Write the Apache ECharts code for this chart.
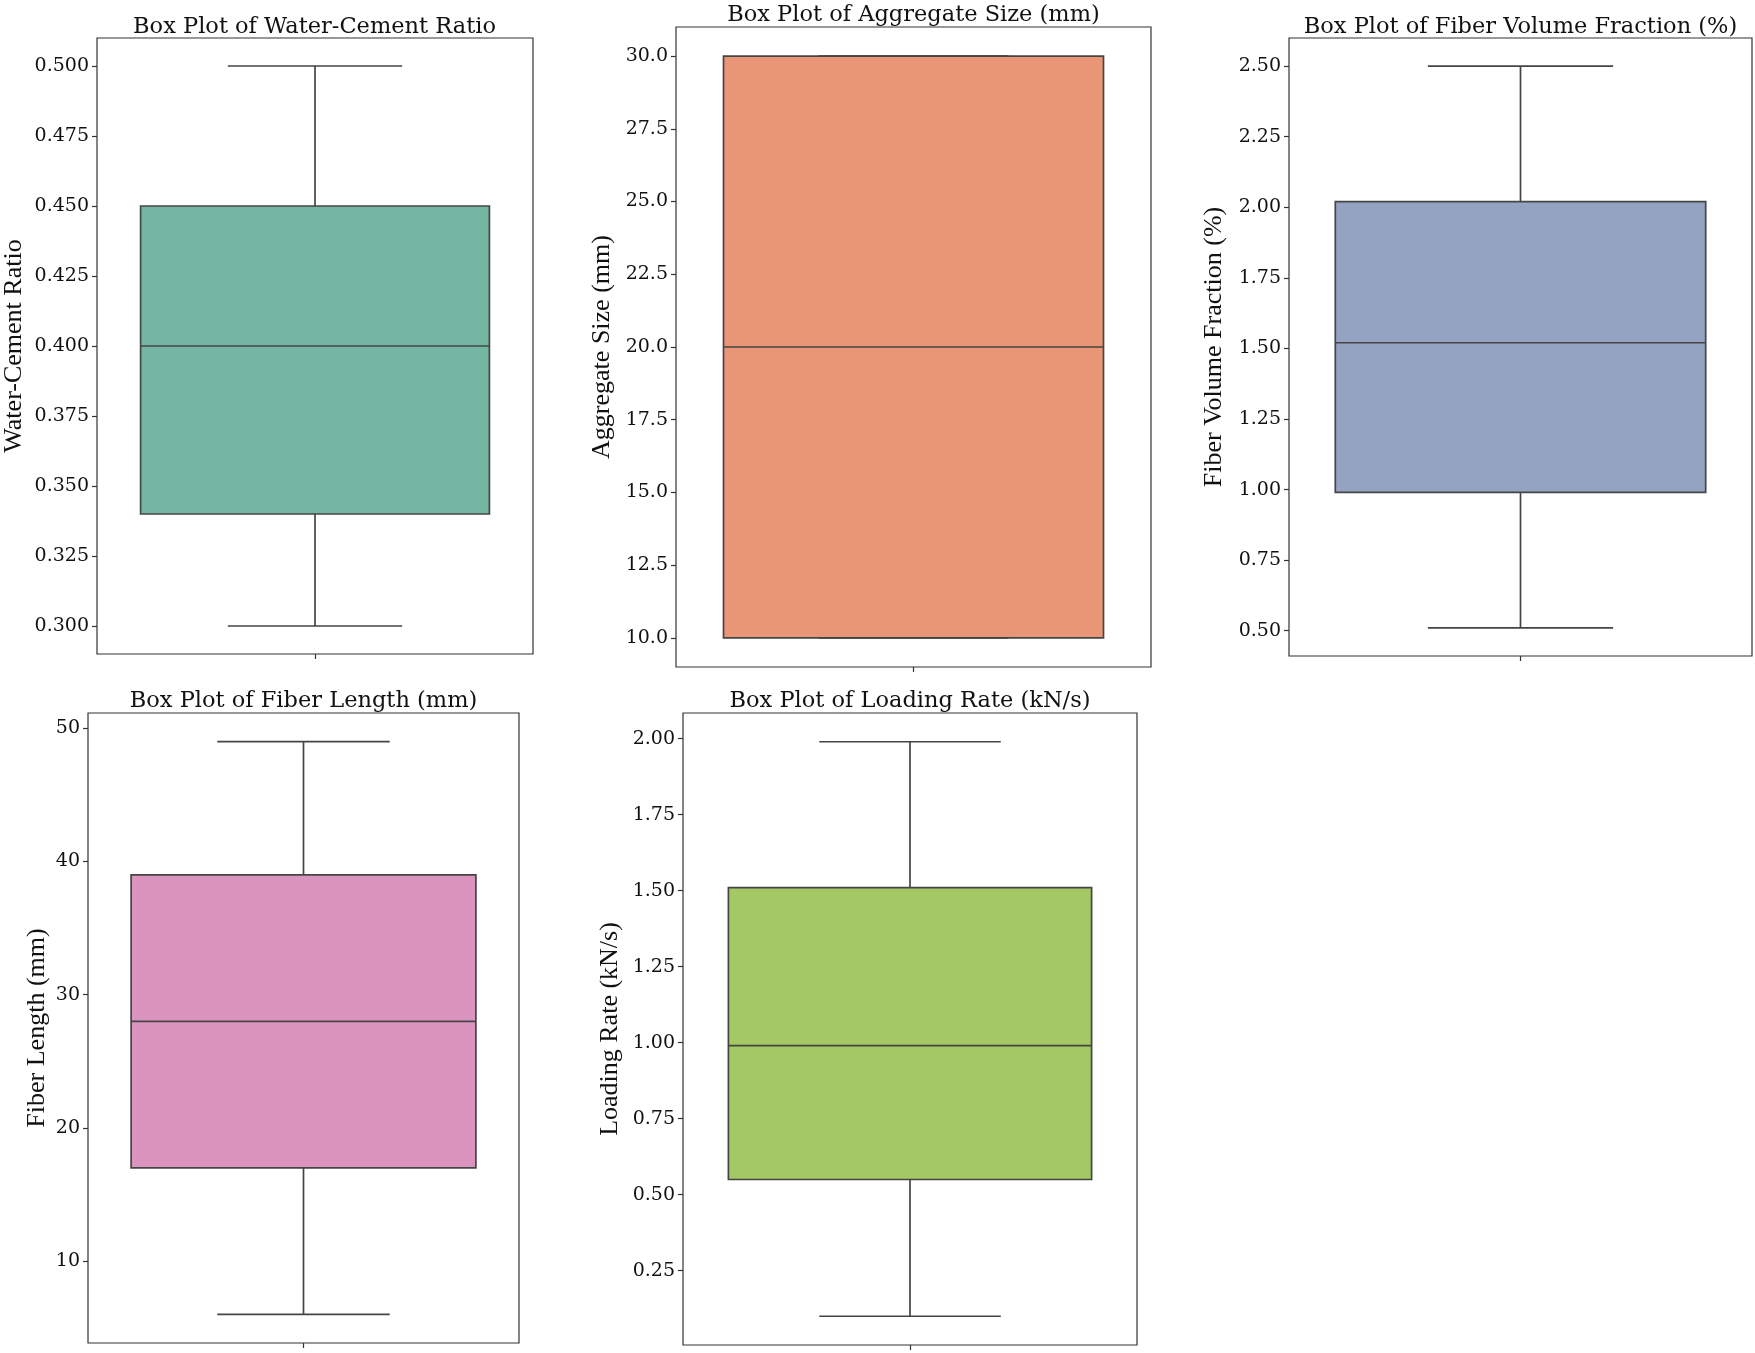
<!DOCTYPE html>
<html>
<head>
<meta charset="utf-8">
<script src="https://cdn.jsdelivr.net/npm/echarts@6/dist/echarts.min.js"></script>
<style>
html,body{margin:0;padding:0;background:#fff;}
#chart{width:1755px;height:1353px;}
</style>
</head>
<body>
<div id="chart"></div>
<script>
// ---- data ----
const variables = ['Water-Cement Ratio', 'Aggregate Size (mm)', 'Fiber Volume Fraction (%)', 'Fiber Length (mm)', 'Loading Rate (kN/s)'];
const whiskerLow  = [0.30, 10, 0.51, 6, 0.10];
const quartile1   = [0.34, 10, 0.99, 17, 0.55];
const medians     = [0.40, 20, 1.52, 28, 0.99];
const quartile3   = [0.45, 30, 2.02, 39, 1.51];
const whiskerHigh = [0.50, 30, 2.50, 49, 1.99];

const ticksWaterCement = [0.300, 0.325, 0.350, 0.375, 0.400, 0.425, 0.450, 0.475, 0.500];
const ticksAggregate   = [10.0, 12.5, 15.0, 17.5, 20.0, 22.5, 25.0, 27.5, 30.0];
const ticksFiberVolume = [0.50, 0.75, 1.00, 1.25, 1.50, 1.75, 2.00, 2.25, 2.50];
const ticksFiberLength = [10, 20, 30, 40, 50];
const ticksLoadingRate = [0.25, 0.50, 0.75, 1.00, 1.25, 1.50, 1.75, 2.00];
const tickSets = [ticksWaterCement, ticksAggregate, ticksFiberVolume, ticksFiberLength, ticksLoadingRate];
const tickDecimals = [3, 1, 2, 0, 2];

// ---- layout / style ----
const colors = ['#73b7a2', '#e99677', '#95a3c3', '#db94be', '#a3c864'];
const grids = [
  {left: 96,   top: 38,  width: 437, height: 616},
  {left: 676,  top: 27,  width: 475, height: 640},
  {left: 1289, top: 38,  width: 463, height: 618},
  {left: 88,   top: 713, width: 431, height: 630},
  {left: 683,  top: 713, width: 454, height: 632}
];
const yRanges = [[0.29, 0.51], [9, 31], [0.4105, 2.5995], [3.85, 51.15], [0.0055, 2.0845]];
const nameGaps = [70, 61, 62, 38, 60];
const titleCapCenters = [24.5, 13, 24.5, 698.5, 698.5];
const LINE = '#454545';

const option = {
  backgroundColor: '#fff',
  animation: false,
  title: variables.map((v, i) => ({
    text: 'Box Plot of ' + v,
    left: grids[i].left + grids[i].width / 2,
    top: titleCapCenters[i] - 9,
    textAlign: 'center',
    padding: 0,
    textStyle: {fontFamily: 'DejaVu Serif', fontSize: 22.5, fontWeight: 'normal', color: '#111'}
  })),
  grid: grids.map(g => Object.assign({show: true, borderColor: '#333', borderWidth: 1.2, containLabel: false}, g)),
  xAxis: variables.map((v, i) => ({
    type: 'category', gridIndex: i, data: [''],
    axisLine: {show: false},
    axisLabel: {show: false},
    axisTick: {show: true, alignWithLabel: true, length: 5, lineStyle: {color: '#333', width: 1.2}},
    splitLine: {show: false}
  })),
  yAxis: variables.map((v, i) => ({
    type: 'value', gridIndex: i,
    min: yRanges[i][0], max: yRanges[i][1],
    name: v, nameLocation: 'middle', nameRotate: 90, nameGap: nameGaps[i],
    nameTextStyle: {fontFamily: 'Liberation Serif', fontSize: 26, color: '#111'},
    axisLine: {show: false},
    axisTick: {show: true, length: 5, customValues: tickSets[i], lineStyle: {color: '#333', width: 1.2}},
    axisLabel: {
      show: true, margin: 8, customValues: tickSets[i],
      fontFamily: 'DejaVu Serif', fontSize: 19, color: '#111',
      formatter: (val) => Number(val).toFixed(tickDecimals[i])
    },
    splitLine: {show: false}
  })),
  series: variables.map((v, i) => ({
    type: 'custom', name: v,
    xAxisIndex: i, yAxisIndex: i,
    encode: {x: 0, y: [1, 2, 3, 4, 5]},
    data: [[0, whiskerLow[i], quartile1[i], medians[i], quartile3[i], whiskerHigh[i]]],
    renderItem: function (params, api) {
      const cat = api.value(0);
      const yLo = api.coord([cat, api.value(1)])[1];
      const yQ1 = api.coord([cat, api.value(2)])[1];
      const yMd = api.coord([cat, api.value(3)])[1];
      const yQ3 = api.coord([cat, api.value(4)])[1];
      const yHi = api.coord([cat, api.value(5)])[1];
      const cx = api.coord([cat, api.value(3)])[0];
      const band = api.size([1, 0])[0];
      const bw = band * 0.8, cw = band * 0.4;
      const ls = {stroke: LINE, lineWidth: 1.7};
      return {
        type: 'group',
        children: [
          {type: 'line', shape: {x1: cx, y1: yQ3, x2: cx, y2: yHi}, style: ls},
          {type: 'line', shape: {x1: cx, y1: yQ1, x2: cx, y2: yLo}, style: ls},
          {type: 'line', shape: {x1: cx - cw / 2, y1: yHi, x2: cx + cw / 2, y2: yHi}, style: ls},
          {type: 'line', shape: {x1: cx - cw / 2, y1: yLo, x2: cx + cw / 2, y2: yLo}, style: ls},
          {type: 'rect', shape: {x: cx - bw / 2, y: yQ3, width: bw, height: yQ1 - yQ3},
           style: {fill: colors[i], stroke: LINE, lineWidth: 1.7}},
          {type: 'line', shape: {x1: cx - bw / 2, y1: yMd, x2: cx + bw / 2, y2: yMd}, style: ls}
        ]
      };
    }
  }))
};

const chart = echarts.init(document.getElementById('chart'), null, {renderer: 'canvas'});
chart.setOption(option);
</script>
</body>
</html>
